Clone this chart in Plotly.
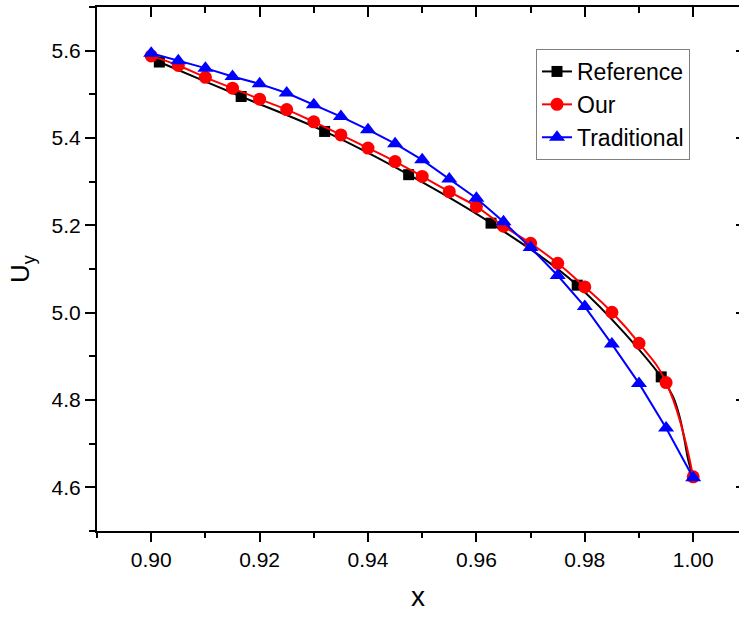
import plotly.graph_objects as go

# ---- data ----
x_pts = [0.900, 0.905, 0.910, 0.915, 0.920, 0.925, 0.930, 0.935, 0.940, 0.945, 0.950,
         0.955, 0.960, 0.965, 0.970, 0.975, 0.980, 0.985, 0.990, 0.995, 1.000]
our_y = [5.588, 5.566, 5.539, 5.514, 5.489, 5.465, 5.437, 5.407, 5.377, 5.346, 5.312,
         5.277, 5.243, 5.198, 5.159, 5.113, 5.059, 5.001, 4.930, 4.840, 4.624]
trad_y = [5.594, 5.577, 5.560, 5.541, 5.524, 5.503, 5.476, 5.449, 5.419, 5.387, 5.350,
          5.306, 5.262, 5.208, 5.149, 5.085, 5.014, 4.928, 4.838, 4.736, 4.622]

ref_line_x = [0.900, 0.9015, 0.9166, 0.9320, 0.9475, 0.9627, 0.9786, 0.9941, 0.9963, 0.9975,
              0.9984, 0.9991, 1.000]
ref_line_y = [5.582, 5.574, 5.495, 5.415, 5.316, 5.205, 5.063, 4.853, 4.807, 4.761,
              4.708, 4.662, 4.622]
ref_mark_x = [0.9015, 0.9166, 0.9320, 0.9475, 0.9627, 0.9786, 0.9941]
ref_mark_y = [5.574, 5.495, 5.415, 5.316, 5.205, 5.063, 4.853]

names = ["Reference", "Our", "Traditional"]
x_ticks = [0.90, 0.92, 0.94, 0.96, 0.98, 1.00]
y_ticks = [4.6, 4.8, 5.0, 5.2, 5.4, 5.6]

FONT = "Liberation Sans, Arial, sans-serif"
W, H = 739, 617
L, R, T, B = 97, 0, 7, 86

fig = go.Figure()

# Reference: smooth line + sparse markers
fig.add_trace(go.Scatter(x=ref_line_x, y=ref_line_y, mode="lines",
                         line=dict(color="black", width=2, shape="spline", smoothing=1.0),
                         showlegend=False, legendgroup="ref", hoverinfo="skip"))
fig.add_trace(go.Scatter(x=ref_mark_x, y=ref_mark_y, mode="markers",
                         marker=dict(symbol="square", size=11, color="black"),
                         showlegend=False, legendgroup="ref"))
fig.add_trace(go.Scatter(x=[None], y=[None], mode="lines+markers", name=names[0], legendgroup="ref",
                         line=dict(color="black", width=2),
                         marker=dict(symbol="square", size=11, color="black")))

fig.add_trace(go.Scatter(x=x_pts, y=our_y, mode="lines+markers", name=names[1],
                         line=dict(color="#ff0000", width=2, shape="spline", smoothing=1.3),
                         marker=dict(symbol="circle", size=13, color="#ff0000")))

fig.add_trace(go.Scatter(x=x_pts, y=trad_y, mode="lines+markers", name=names[2],
                         line=dict(color="#0000ff", width=2),
                         marker=dict(symbol="triangle-up", size=14, color="#0000ff")))

plot_w = W - L - R
xr = [0.89, 0.89 + plot_w / 5420.0]
yr = [4.5, 5.7]

fig.update_layout(
    width=W, height=H,
    margin=dict(l=L, r=R, t=T, b=B, pad=0),
    paper_bgcolor="white", plot_bgcolor="white",
    font=dict(family=FONT, color="black", size=21),
    xaxis=dict(range=xr, tickvals=x_ticks, ticktext=[f"{v:.2f}" for v in x_ticks],
               ticks="outside", ticklen=9, tickwidth=2, tickcolor="black",
               minor=dict(dtick=0.01, tick0=0.89, ticks="outside", ticklen=5, tickwidth=1.5, tickcolor="black"),
               showline=True, linewidth=2, linecolor="black", showgrid=False, zeroline=False,
               tickfont=dict(size=21), title=dict(text="x", font=dict(size=28), standoff=16)),
    yaxis=dict(range=yr, tickvals=y_ticks, ticktext=[f"{v:.1f}" for v in y_ticks],
               ticks="outside", ticklen=10, tickwidth=2, tickcolor="black",
               minor=dict(dtick=0.1, tick0=4.5, ticks="outside", ticklen=6, tickwidth=1.5, tickcolor="black"),
               showline=True, linewidth=2, linecolor="black", showgrid=False, zeroline=False,
               tickfont=dict(size=21), title=dict(text="U<sub>y</sub>", font=dict(size=26), standoff=14)),
    xaxis2=dict(range=xr, overlaying="x", side="top", tickvals=x_ticks, showticklabels=False,
                ticks="inside", ticklen=10, tickwidth=2, tickcolor="black",
                minor=dict(dtick=0.01, tick0=0.89, ticks="inside", ticklen=6, tickwidth=1.5, tickcolor="black"),
                showline=True, linewidth=2, linecolor="black", showgrid=False, zeroline=False),
    yaxis2=dict(range=yr, overlaying="y", side="right", tickvals=y_ticks, showticklabels=False,
                ticks="inside", ticklen=3, tickwidth=2, tickcolor="black",
                showline=False, showgrid=False, zeroline=False),
    legend=dict(x=(536 - L) / plot_w, y=(H - B - 49) / (H - T - B), xanchor="left", yanchor="top",
                bgcolor="white", bordercolor="#808080", borderwidth=1,
                font=dict(size=23, family=FONT), tracegroupgap=0, itemwidth=30),
    showlegend=True,
)
# dummy trace to activate the secondary axes
fig.add_trace(go.Scatter(x=[None], y=[None], xaxis="x2", yaxis="y2", showlegend=False, hoverinfo="skip"))

fig.write_html("out.html")
